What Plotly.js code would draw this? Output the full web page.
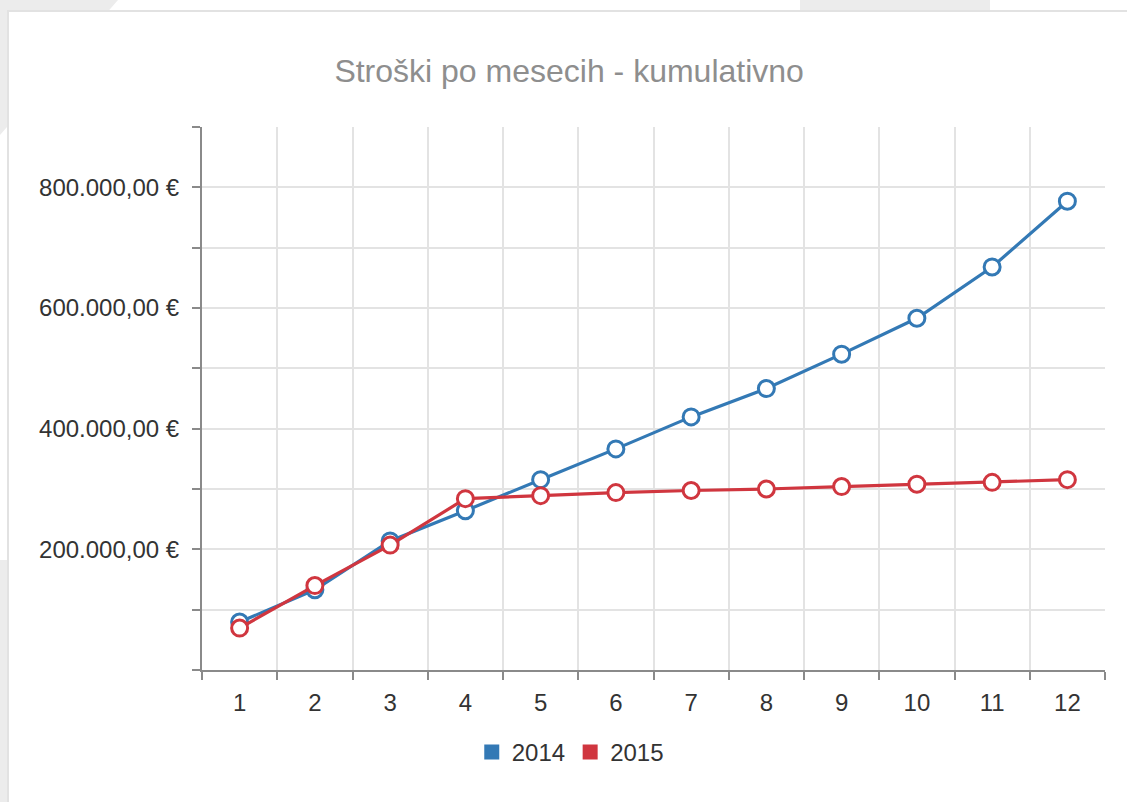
<!DOCTYPE html>
<html>
<head>
<meta charset="utf-8">
<script src="https://cdn.plot.ly/plotly-3.0.1.min.js"></script>
<style>
  html, body { margin: 0; padding: 0; width: 1127px; height: 802px; overflow: hidden; background: #ffffff; }
  .bg { position: absolute; background: #ececec; }
  #card { position: absolute; left: 7px; top: 10px; width: 1120px; height: 792px; background: #ffffff;
          border-top: 2px solid #e2e2e2; border-left: 2px solid #e2e2e2; box-sizing: border-box; }
  #chart { position: absolute; left: 0; top: 0; width: 1127px; height: 802px; }
</style>
</head>
<body>
<div class="bg" style="left:0;top:0;width:118px;height:135px;clip-path:polygon(0 0,100% 0,0 100%);"></div>
<div class="bg" style="left:800px;top:0;width:190px;height:12px;"></div>
<div class="bg" style="left:0;top:560px;width:8px;height:242px;"></div>
<div id="card"></div>
<div id="chart"></div>
<script>
// Data
const months = ['1','2','3','4','5','6','7','8','9','10','11','12'];
const costs2014 = [79500, 133000, 214000, 264000, 315500, 366500, 419500, 466500, 523500, 583000, 668000, 777000];
const costs2015 = [69500, 140000, 207000, 284000, 289000, 294000, 297500, 300000, 304000, 308000, 311000, 315500];
const seriesNames = ['2014', '2015'];
const yTickValues = [0, 100000, 200000, 300000, 400000, 500000, 600000, 700000, 800000, 900000];
const yLabelledTicks = [200000, 400000, 600000, 800000];

const blue = '#3379b5';
const red = '#d0363f';

function euro(v) {
  const whole = Math.floor(v).toString().replace(/\B(?=(\d{3})+(?!\d))/g, '.');
  return whole + ',00 €';
}

const yTickText = yTickValues.map(v => yLabelledTicks.includes(v) ? euro(v) : '');

const mk = (color) => ({ symbol: 'circle', size: 16, color: '#ffffff', line: { color: color, width: 3 } });

const traces = [
  { type: 'scatter', mode: 'lines+markers', name: seriesNames[0], x: months, y: costs2014,
    line: { color: blue, width: 3.2 }, marker: mk(blue), showlegend: false },
  { type: 'scatter', mode: 'lines+markers', name: seriesNames[1], x: months, y: costs2015,
    line: { color: red, width: 3.2 }, marker: mk(red), showlegend: false },
  { type: 'scatter', mode: 'markers', name: seriesNames[0], x: [null], y: [null],
    marker: { symbol: 'square', size: 15, color: blue }, showlegend: true },
  { type: 'scatter', mode: 'markers', name: seriesNames[1], x: [null], y: [null],
    marker: { symbol: 'square', size: 15, color: red }, showlegend: true }
];

const layout = {
  width: 1127, height: 802,
  paper_bgcolor: 'rgba(0,0,0,0)', plot_bgcolor: 'rgba(0,0,0,0)',
  margin: { l: 202, r: 22, t: 127, b: 132 },
  font: { family: 'Liberation Sans, Arial, sans-serif', size: 24, color: '#333333' },
  title: { text: 'Stroški po mesecih - kumulativno', font: { family: 'Liberation Sans, Arial, sans-serif', size: 32, color: '#8e8e8e' },
           x: 0.505, xref: 'container', xanchor: 'center', y: 0.912, yref: 'container', yanchor: 'middle' },
  xaxis: {
    type: 'category', tickson: 'boundaries', range: [-0.5, 11.5],
    showgrid: true, gridcolor: '#e3e3e3', gridwidth: 2,
    showline: true, linecolor: '#8a8a8a', linewidth: 2,
    ticks: 'outside', ticklen: 8, tickwidth: 2, tickcolor: '#8a8a8a',
    tickfont: { size: 24, color: '#333333' }, ticklabelstandoff: 10,
    zeroline: false, fixedrange: true
  },
  yaxis: {
    range: [0, 900000], tickmode: 'array', tickvals: yTickValues, ticktext: yTickText,
    showgrid: true, gridcolor: '#e3e3e3', gridwidth: 2,
    showline: true, linecolor: '#8a8a8a', linewidth: 2,
    ticks: 'outside', ticklen: 8, tickwidth: 2, tickcolor: '#8a8a8a',
    tickfont: { size: 24, color: '#333333' }, ticklabelstandoff: 8,
    zeroline: false, fixedrange: true
  },
  showlegend: true,
  legend: { orientation: 'h', xref: 'container', x: 0.506, xanchor: 'center', yref: 'container', y: 0.062, yanchor: 'middle',
            font: { size: 24, color: '#333333' }, itemwidth: 30, bgcolor: 'rgba(0,0,0,0)' }
};

Plotly.newPlot('chart', traces, layout, { displayModeBar: false, staticPlot: true });
</script>
</body>
</html>
